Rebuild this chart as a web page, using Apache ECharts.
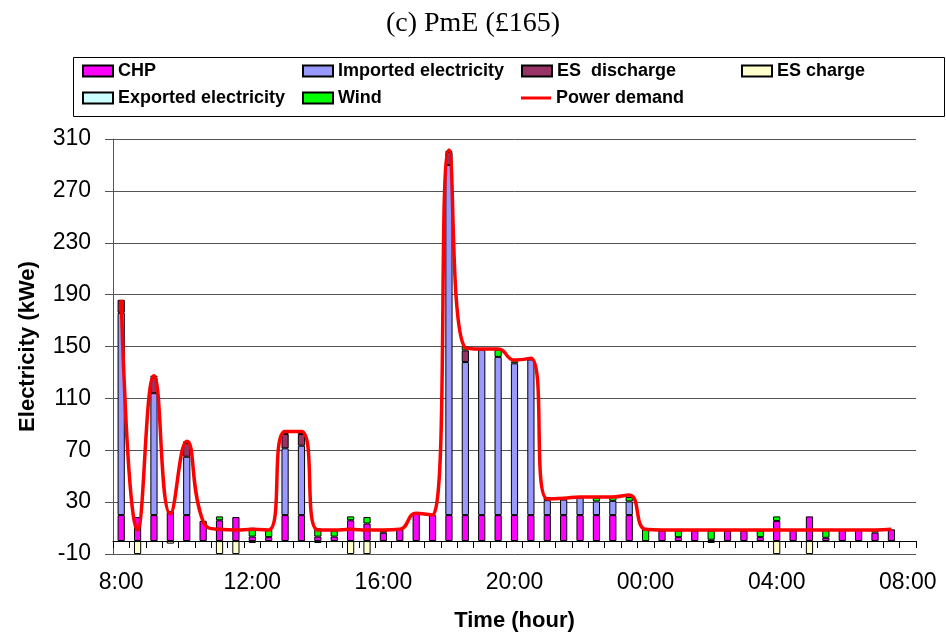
<!DOCTYPE html>
<html>
<head>
<meta charset="utf-8">
<title>(c) PmE (£165)</title>
<script src="https://cdn.jsdelivr.net/npm/echarts@6/dist/echarts.min.js"></script>
<style>
  html, body { margin: 0; padding: 0; background: #fff; }
  #chart { width: 946px; height: 636px; }
</style>
</head>
<body>
<div id="chart"></div>
<script>
// Half-hourly slots from 8:00 to 08:00 the next morning (last slot is the closing label only)
const categories = ['8:00','8:30','9:00','9:30','10:00','10:30','11:00','11:30',
  '12:00','12:30','13:00','13:30','14:00','14:30','15:00','15:30',
  '16:00','16:30','17:00','17:30','18:00','18:30','19:00','19:30',
  '20:00','20:30','21:00','21:30','22:00','22:30','23:00','23:30',
  '00:00','00:30','01:00','01:30','02:00','02:30','03:00','03:30',
  '04:00','04:30','05:00','05:30','06:00','06:30','07:00','07:30','08:00'];

// Electricity supply by source (kWe); null = no contribution in that slot
const chp = [20, 18.5, 20, 23, 20, 15.5, 16, 18.5, 3.4, 3, 20, 20, 3.4, 3.4, 16, 13.5,
  6.4, 9, 21.5, 20, 20, 20, 20, 20, 20, 20, 20, 20, 20, 20, 20, 20,
  null, 8, 3, 8, 1, 8, 8, 3, 15.5, 8.5, 19, 2.5, 8.5, 8.5, 6.5, 9, null];

const imported = [156, null, 94, null, 45, null, null, null, null, null, 51.5, 53.5, null, null, null, null,
  null, null, null, null, 270, 118, 127.5, 122, 117, 120, 11.5, 12, 13.5, 10.5, 11, 10.5,
  null, null, null, null, null, null, null, null, null, null, null, null, null, null, null, null, null];

const esDischarge = [10, null, 12, null, 10.5, null, null, null, null, null, 11, 9, null, null, null, null,
  null, null, null, null, 10, 9, null, null, null, null, null, null, null, null, null, null,
  null, null, null, null, null, null, null, null, null, null, null, null, null, null, null, null, null];

const esCharge = [null, -10, null, -2, null, null, -10, -10, null, null, null, null, null, null, -10, -10,
  null, null, null, null, null, null, null, null, null, null, null, null, null, null, null, null,
  null, null, null, null, null, null, null, null, -10, null, -10, null, null, null, null, null, null];

const exported = [null, null, null, null, null, null, null, null, -1.5, null, null, null, -1.5, null, null, null,
  null, null, null, null, null, null, null, null, null, null, null, null, null, null, null, null,
  null, null, null, null, -1.5, null, null, null, null, null, null, null, null, null, null, null, null];

const wind = [null, null, 1.5, null, 1.5, null, 3, null, 6.8, 6, 2, 2, 6.4, 4.6, 3, 5,
  1.6, null, null, null, 1, 3, null, 5.5, 1.5, null, 2.5, null, null, 3, 3, 3.5,
  9, null, 5, null, 7, null, null, 5, 3.5, null, null, 6, null, null, 2, null, null];

const demand = [186, 8.5, 127.5, 21, 77, 15, 9, 8.5, 9, 8.5, 84.5, 84.5, 8.5, 8.5, 9, 8.5,
  8.5, 9, 21.5, 20, 301.5, 149, 148, 148, 139.5, 141, 32.5, 33, 34, 34, 34, 35.5,
  9, 8.5, 8.5, 8.5, 8.5, 8.5, 8.5, 8.5, 8.5, 8.5, 8.5, 8.5, 8.5, 8.5, 8.5, 9, null];

const yTicks = [-10, 30, 70, 110, 150, 190, 230, 270, 310];

const FONT = 'Liberation Sans, Arial, sans-serif';
const legendText = { fontFamily: FONT, fontSize: 18, fontWeight: 'bold', color: '#000', lineHeight: 20 };

function legendItem(name, left, centerY, isLine) {
  return {
    data: [{ name: name, icon: 'rect' }], left: left, top: centerY - 10, padding: 0,
    itemWidth: 30, itemHeight: isLine ? 3 : 11, itemGap: 0,
    textStyle: legendText, selectedMode: false
  };
}

function barSeries(name, values, color) {
  return {
    name: name, type: 'bar', stack: 'supply', data: values, barWidth: '44%',
    itemStyle: { color: color, borderColor: '#000', borderWidth: 1 },
    emphasis: { disabled: true }
  };
}

const chart = echarts.init(document.getElementById('chart'), null, { renderer: 'canvas' });
chart.setOption({
  animation: false,
  backgroundColor: '#fff',
  title: {
    text: '(c) PmE (£165)', left: 'center', top: 5,
    textStyle: { fontFamily: 'Liberation Serif, Times New Roman, serif', fontSize: 28, fontWeight: 'normal', color: '#000' }
  },
  legend: [
    legendItem('CHP', 82, 71),
    legendItem('Imported electricity', 302, 71),
    legendItem('ES  discharge', 521, 71),
    legendItem('ES charge', 741, 71),
    legendItem('Exported electricity', 82, 98),
    legendItem('Wind', 302, 98),
    legendItem('Power demand', 521, 98, true)
  ],
  graphic: [{
    type: 'rect', silent: true,
    shape: { x: 73.5, y: 57.5, width: 871, height: 59 },
    style: { fill: 'none', stroke: '#000', lineWidth: 1 }
  }],
  grid: { left: 113, right: 30, top: 139, bottom: 82, containLabel: false, outerBoundsMode: 'none' },
  xAxis: {
    type: 'category', data: categories, boundaryGap: true,
    axisLine: { onZero: true, lineStyle: { color: '#000', width: 1 } },
    axisTick: { show: true, interval: 0, length: 7, alignWithLabel: false, lineStyle: { color: '#000' } },
    axisLabel: { interval: 7, margin: 17, fontFamily: FONT, fontSize: 23, color: '#000', hideOverlap: false },
    splitLine: { show: false },
    name: 'Time (hour)', nameLocation: 'middle', nameGap: 56, nameMoveOverlap: false,
    nameTextStyle: { fontFamily: FONT, fontSize: 22, fontWeight: 'bold', color: '#000' }
  },
  yAxis: {
    type: 'value', min: -10, max: 310,
    axisLine: { show: true, lineStyle: { color: '#555', width: 1 } },
    axisTick: { show: true, length: 8, customValues: yTicks, lineStyle: { color: '#555' } },
    axisLabel: { customValues: yTicks, margin: 22, fontFamily: FONT, fontSize: 23, color: '#000' },
    splitLine: { show: true, lineStyle: { color: '#555', width: 1 } },
    name: 'Electricity (kWe)', nameLocation: 'middle', nameGap: 74, nameRotate: 90,
    nameTextStyle: { fontFamily: FONT, fontSize: 22, fontWeight: 'bold', color: '#000' }
  },
  series: [
    barSeries('CHP', chp, '#FF00FF'),
    barSeries('Imported electricity', imported, '#9999FF'),
    barSeries('ES  discharge', esDischarge, '#993366'),
    barSeries('ES charge', esCharge, '#FFFFCC'),
    barSeries('Exported electricity', exported, '#CCFFFF'),
    barSeries('Wind', wind, '#00FF00'),
    {
      name: 'Power demand', type: 'line', data: demand, smooth: 0.5,
      symbol: 'none', z: 5,
      lineStyle: { color: '#FF0000', width: 3.5 },
      itemStyle: { color: '#FF0000' },
      emphasis: { disabled: true }
    }
  ]
});
</script>
</body>
</html>
